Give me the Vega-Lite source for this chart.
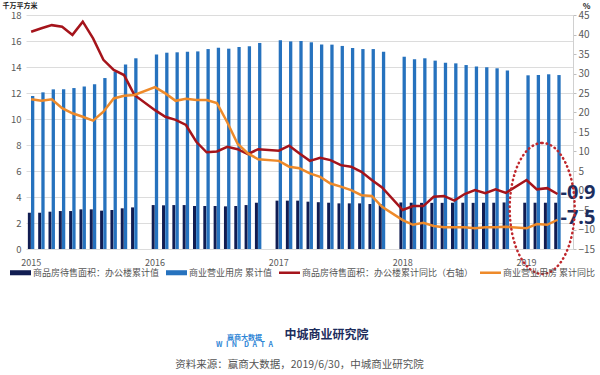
{
  "$schema": "https://vega.github.io/schema/vega-lite/v6.json",
  "width": 547,
  "height": 234,
  "autosize": {"type": "none"},
  "padding": {"left": 26, "top": 15, "right": 27, "bottom": 126},
  "background": "#ffffff",
  "config": {
    "font": "Noto Sans CJK SC",
    "view": {"stroke": null},
    "axis": {"labelFont": "Noto Sans CJK SC", "titleFont": "Noto Sans CJK SC"}
  },
  "title": {
    "text": "\u200b\u3000\u3000\u3000\u3000\u2002中城商业研究院",
    "subtitle": "资料来源：赢商大数据，2019/6/30，中城商业研究院",
    "orient": "bottom",
    "anchor": "middle",
    "frame": "group",
    "offset": -18,
    "font": "Noto Sans CJK SC",
    "fontSize": 12,
    "fontWeight": "bold",
    "color": "#1d2d5c",
    "subtitleFont": "Noto Sans CJK SC",
    "subtitleFontSize": 10.5,
    "subtitleColor": "#555555",
    "subtitlePadding": 18
  },
  "data": {"values": [
    {"month": "2015-02", "office": 2.79, "commercial": 11.77, "office_yoy": 40.7, "commercial_yoy": 23.4},
    {"month": "2015-03", "office": 2.79, "commercial": 12.05, "office_yoy": 41.6, "commercial_yoy": 23.0},
    {"month": "2015-04", "office": 2.87, "commercial": 12.28, "office_yoy": 42.4, "commercial_yoy": 23.4},
    {"month": "2015-05", "office": 2.92, "commercial": 12.28, "office_yoy": 42.0, "commercial_yoy": 21.1},
    {"month": "2015-06", "office": 2.92, "commercial": 12.38, "office_yoy": 39.9, "commercial_yoy": 19.8},
    {"month": "2015-07", "office": 3.05, "commercial": 12.50, "office_yoy": 43.3, "commercial_yoy": 18.9},
    {"month": "2015-08", "office": 3.05, "commercial": 12.67, "office_yoy": 39.0, "commercial_yoy": 17.9},
    {"month": "2015-09", "office": 2.95, "commercial": 13.15, "office_yoy": 33.5, "commercial_yoy": 20.2},
    {"month": "2015-10", "office": 3.00, "commercial": 13.64, "office_yoy": 30.9, "commercial_yoy": 23.6},
    {"month": "2015-11", "office": 3.13, "commercial": 14.20, "office_yoy": 29.6, "commercial_yoy": 24.3},
    {"month": "2015-12", "office": 3.20, "commercial": 14.67, "office_yoy": 24.5, "commercial_yoy": 24.5},
    {"month": "2016-02", "office": 3.38, "commercial": 14.97, "office_yoy": 20.6, "commercial_yoy": 26.5},
    {"month": "2016-03", "office": 3.36, "commercial": 15.10, "office_yoy": 18.9, "commercial_yoy": 24.9},
    {"month": "2016-04", "office": 3.38, "commercial": 15.13, "office_yoy": 18.1, "commercial_yoy": 23.0},
    {"month": "2016-05", "office": 3.38, "commercial": 15.18, "office_yoy": 16.8, "commercial_yoy": 23.5},
    {"month": "2016-06", "office": 3.31, "commercial": 15.20, "office_yoy": 12.5, "commercial_yoy": 23.2},
    {"month": "2016-07", "office": 3.31, "commercial": 15.38, "office_yoy": 9.8, "commercial_yoy": 23.2},
    {"month": "2016-08", "office": 3.31, "commercial": 15.48, "office_yoy": 10.0, "commercial_yoy": 22.4},
    {"month": "2016-09", "office": 3.28, "commercial": 15.41, "office_yoy": 11.2, "commercial_yoy": 17.5},
    {"month": "2016-10", "office": 3.31, "commercial": 15.54, "office_yoy": 10.6, "commercial_yoy": 12.0},
    {"month": "2016-11", "office": 3.38, "commercial": 15.59, "office_yoy": 9.3, "commercial_yoy": 9.5},
    {"month": "2016-12", "office": 3.56, "commercial": 15.85, "office_yoy": 10.6, "commercial_yoy": 8.0},
    {"month": "2017-02", "office": 3.72, "commercial": 16.05, "office_yoy": 10.2, "commercial_yoy": 7.6},
    {"month": "2017-03", "office": 3.72, "commercial": 15.97, "office_yoy": 11.5, "commercial_yoy": 6.1},
    {"month": "2017-04", "office": 3.72, "commercial": 16.00, "office_yoy": 9.5, "commercial_yoy": 5.7},
    {"month": "2017-05", "office": 3.64, "commercial": 15.90, "office_yoy": 7.6, "commercial_yoy": 4.4},
    {"month": "2017-06", "office": 3.60, "commercial": 15.74, "office_yoy": 8.4, "commercial_yoy": 3.5},
    {"month": "2017-07", "office": 3.56, "commercial": 15.72, "office_yoy": 7.8, "commercial_yoy": 1.8},
    {"month": "2017-08", "office": 3.51, "commercial": 15.62, "office_yoy": 6.5, "commercial_yoy": 1.0},
    {"month": "2017-09", "office": 3.51, "commercial": 15.46, "office_yoy": 6.1, "commercial_yoy": 0.1},
    {"month": "2017-10", "office": 3.51, "commercial": 15.38, "office_yoy": 4.8, "commercial_yoy": -1.2},
    {"month": "2017-11", "office": 3.46, "commercial": 15.38, "office_yoy": 2.7, "commercial_yoy": -1.4},
    {"month": "2017-12", "office": 3.45, "commercial": 15.18, "office_yoy": 0.8, "commercial_yoy": -4.2},
    {"month": "2018-02", "office": 3.58, "commercial": 14.79, "office_yoy": -5.0, "commercial_yoy": -7.6},
    {"month": "2018-03", "office": 3.56, "commercial": 14.59, "office_yoy": -4.0, "commercial_yoy": -8.8},
    {"month": "2018-04", "office": 3.55, "commercial": 14.67, "office_yoy": -4.0, "commercial_yoy": -8.3},
    {"month": "2018-05", "office": 3.55, "commercial": 14.49, "office_yoy": -1.6, "commercial_yoy": -9.1},
    {"month": "2018-06", "office": 3.55, "commercial": 14.33, "office_yoy": -1.4, "commercial_yoy": -9.4},
    {"month": "2018-07", "office": 3.56, "commercial": 14.28, "office_yoy": -2.6, "commercial_yoy": -9.4},
    {"month": "2018-08", "office": 3.56, "commercial": 14.15, "office_yoy": -0.9, "commercial_yoy": -9.4},
    {"month": "2018-09", "office": 3.55, "commercial": 14.03, "office_yoy": 0.1, "commercial_yoy": -9.7},
    {"month": "2018-10", "office": 3.56, "commercial": 13.98, "office_yoy": -0.7, "commercial_yoy": -9.4},
    {"month": "2018-11", "office": 3.56, "commercial": 13.90, "office_yoy": 0.3, "commercial_yoy": -9.4},
    {"month": "2018-12", "office": 3.58, "commercial": 13.74, "office_yoy": -0.6, "commercial_yoy": -9.3},
    {"month": "2019-02", "office": 3.56, "commercial": 13.36, "office_yoy": 2.7, "commercial_yoy": -9.7},
    {"month": "2019-03", "office": 3.56, "commercial": 13.38, "office_yoy": 0.3, "commercial_yoy": -8.6},
    {"month": "2019-04", "office": 3.56, "commercial": 13.44, "office_yoy": 0.6, "commercial_yoy": -8.8},
    {"month": "2019-05", "office": 3.56, "commercial": 13.38, "office_yoy": -0.9, "commercial_yoy": -7.5}
  ]},
  "encoding": {
    "x": {
      "field": "month",
      "type": "ordinal",
      "scale": {
        "domain": ["2015-02","2015-03","2015-04","2015-05","2015-06","2015-07","2015-08","2015-09","2015-10","2015-11","2015-12",
                   "2016-01","2016-02","2016-03","2016-04","2016-05","2016-06","2016-07","2016-08","2016-09","2016-10","2016-11","2016-12",
                   "2017-01","2017-02","2017-03","2017-04","2017-05","2017-06","2017-07","2017-08","2017-09","2017-10","2017-11","2017-12",
                   "2018-01","2018-02","2018-03","2018-04","2018-05","2018-06","2018-07","2018-08","2018-09","2018-10","2018-11","2018-12",
                   "2019-01","2019-02","2019-03","2019-04","2019-05","2019-06"],
        "paddingInner": 0,
        "paddingOuter": 0
      },
      "axis": {
        "title": ["赢商大数据", "W\u2002I\u2002N\u2003D\u2002A\u2002T\u2002A"],
        "titleX": 218,
        "titleY": 84,
        "titleAlign": "center",
        "titleBaseline": "top",
        "titleFontSize": 7,
        "titleLineHeight": 7.5,
        "titleFontWeight": "bold",
        "titleColor": "#2f86d6",
        "labelExpr": "slice(datum.value, 5) == '02' ? slice(datum.value, 0, 4) : ''",
        "labelAngle": 0,
        "labelFontSize": 9,
        "labelColor": "#595959",
        "labelPadding": 9,
        "labelOverlap": false,
        "ticks": false,
        "tickSize": 0,
        "domain": false,
        "grid": false
      }
    }
  },
  "layer": [
    {
      "layer": [
        {
          "mark": {"type": "bar", "width": 3, "xOffset": -1.8},
          "encoding": {
            "y": {
              "field": "office",
              "type": "quantitative",
              "scale": {"domain": [0, 18], "nice": false},
              "axis": {"title": "千万平方米", "titleAngle": 0, "titleAlign": "left", "titleBaseline": "middle", "titleX": -24, "titleY": -10, "titleFontSize": 7, "titleFontWeight": "bold", "titleColor": "#222222", "values": [0, 2, 4, 6, 8, 10, 12, 14, 16, 18], "labelOverlap": false, "labelFontSize": 9.5, "labelColor": "#595959", "labelPadding": 5, "ticks": false, "tickSize": 0, "domain": false, "grid": true, "gridColor": "#dcdcdc", "gridWidth": 1}
            },
            "color": {
              "datum": "商品房待售面积：办公楼累计值",
              "scale": {
                "domain": ["商品房待售面积：办公楼累计值", "商业营业用房 累计值", "商品房待售面积：办公楼累计同比（右轴）", "商业营业用房 累计同比"],
                "range": ["#111d52", "#2672be", "#a5141b", "#ee8a2a"]
              },
              "legend": {
                "orient": "none",
                "legendX": -16,
                "legendY": 247,
                "direction": "horizontal",
                "title": null,
                "labelFont": "Noto Sans CJK SC",
                "labelFontSize": 9,
                "labelColor": "#555555",
                "labelLimit": 0,
                "labelOffset": 2,
                "columnPadding": 6,
                "padding": 0,
                "symbolSize": 441,
                "symbolType": "M-1,-0.24H1V0.24H-1Z",
                "symbolStrokeWidth": 0,
                "encode": {
                  "symbols": {
                    "update": {
                      "shape": {"signal": "indexof(['商品房待售面积：办公楼累计值','商业营业用房 累计值'], datum.value) >= 0 ? 'M-1,-0.24H1V0.24H-1Z' : 'M-1,-0.12H1V0.12H-1Z'"},
                      "fill": {"scale": "color", "field": "value"},
                      "fillOpacity": {"value": 1},
                      "opacity": {"value": 1},
                      "strokeWidth": {"value": 0}
                    }
                  }
                }
              }
            }
          }
        },
        {
          "mark": {"type": "bar", "width": 3.3, "xOffset": 1.5},
          "encoding": {
            "y": {
              "field": "commercial",
              "type": "quantitative",
              "scale": {"domain": [0, 18], "nice": false},
              "axis": {"title": "千万平方米", "titleAngle": 0, "titleAlign": "left", "titleBaseline": "middle", "titleX": -24, "titleY": -10, "titleFontSize": 7, "titleFontWeight": "bold", "titleColor": "#222222", "values": [0, 2, 4, 6, 8, 10, 12, 14, 16, 18], "labelOverlap": false, "labelFontSize": 9.5, "labelColor": "#595959", "labelPadding": 5, "ticks": false, "tickSize": 0, "domain": false, "grid": true, "gridColor": "#dcdcdc", "gridWidth": 1}
            },
            "color": {"datum": "商业营业用房 累计值"}
          }
        }
      ]
    },
    {
      "layer": [
        {
          "mark": {"type": "line", "strokeWidth": 2.5},
          "encoding": {
            "y": {
              "field": "office_yoy",
              "type": "quantitative",
              "scale": {"domain": [-15, 45], "nice": false},
              "axis": {"orient": "right", "title": "%", "titleAngle": 0, "titleAlign": "center", "titleBaseline": "middle", "titleX": 13, "titleY": -9, "titleFontSize": 8, "titleFontWeight": "bold", "titleColor": "#222222", "values": [-15, -10, -5, 0, 5, 10, 15, 20, 25, 30, 35, 40, 45], "labelOverlap": false, "labelFontSize": 10, "labelColor": "#595959", "labelPadding": 2, "ticks": true, "tickSize": 3, "tickColor": "#bfbfbf", "domain": true, "domainColor": "#d0d0d0", "grid": false}
            },
            "color": {"datum": "商品房待售面积：办公楼累计同比（右轴）"}
          }
        },
        {
          "mark": {"type": "line", "strokeWidth": 2.5},
          "encoding": {
            "y": {
              "field": "commercial_yoy",
              "type": "quantitative",
              "scale": {"domain": [-15, 45], "nice": false},
              "axis": {"orient": "right", "title": "%", "titleAngle": 0, "titleAlign": "center", "titleBaseline": "middle", "titleX": 13, "titleY": -9, "titleFontSize": 8, "titleFontWeight": "bold", "titleColor": "#222222", "values": [-15, -10, -5, 0, 5, 10, 15, 20, 25, 30, 35, 40, 45], "labelOverlap": false, "labelFontSize": 10, "labelColor": "#595959", "labelPadding": 2, "ticks": true, "tickSize": 3, "tickColor": "#bfbfbf", "domain": true, "domainColor": "#d0d0d0", "grid": false}
            },
            "color": {"datum": "商业营业用房 累计同比"}
          }
        },
        {
          "transform": [{"filter": "datum.month == '2019-05'"}],
          "mark": {"type": "text", "align": "left", "baseline": "middle", "dx": 3, "dy": -1, "fontSize": 20, "fontWeight": "bold", "color": "#1c2e5f", "font": "Noto Sans"},
          "encoding": {
            "y": {
              "field": "office_yoy",
              "type": "quantitative",
              "scale": {"domain": [-15, 45], "nice": false},
              "axis": {"orient": "right", "title": "%", "titleAngle": 0, "titleAlign": "center", "titleBaseline": "middle", "titleX": 13, "titleY": -9, "titleFontSize": 8, "titleFontWeight": "bold", "titleColor": "#222222", "values": [-15, -10, -5, 0, 5, 10, 15, 20, 25, 30, 35, 40, 45], "labelOverlap": false, "labelFontSize": 10, "labelColor": "#595959", "labelPadding": 2, "ticks": true, "tickSize": 3, "tickColor": "#bfbfbf", "domain": true, "domainColor": "#d0d0d0", "grid": false}
            },
            "text": {"field": "office_yoy", "type": "nominal"}
          }
        },
        {
          "transform": [{"filter": "datum.month == '2019-05'"}],
          "mark": {"type": "text", "align": "left", "baseline": "middle", "dx": 3, "dy": -2, "fontSize": 20, "fontWeight": "bold", "color": "#1c2e5f", "font": "Noto Sans"},
          "encoding": {
            "y": {
              "field": "commercial_yoy",
              "type": "quantitative",
              "scale": {"domain": [-15, 45], "nice": false},
              "axis": {"orient": "right", "title": "%", "titleAngle": 0, "titleAlign": "center", "titleBaseline": "middle", "titleX": 13, "titleY": -9, "titleFontSize": 8, "titleFontWeight": "bold", "titleColor": "#222222", "values": [-15, -10, -5, 0, 5, 10, 15, 20, 25, 30, 35, 40, 45], "labelOverlap": false, "labelFontSize": 10, "labelColor": "#595959", "labelPadding": 2, "ticks": true, "tickSize": 3, "tickColor": "#bfbfbf", "domain": true, "domainColor": "#d0d0d0", "grid": false}
            },
            "text": {"field": "commercial_yoy", "type": "nominal"}
          }
        },
        {
          "data": {"values": [{"month": "2019-04", "pct": -4.6}]},
          "mark": {
            "type": "point",
            "filled": false,
            "shape": "M0,-1C0.274,-1 0.496,-0.552 0.496,0C0.496,0.552 0.274,1 0,1C-0.274,1 -0.496,0.552 -0.496,0C-0.496,-0.552 -0.274,-1 0,-1Z",
            "size": 17161,
            "xOffset": -5,
            "stroke": "#c0282d",
            "strokeWidth": 2.5,
            "strokeDash": [0.5, 4],
            "strokeCap": "round",
            "opacity": 1
          },
          "encoding": {
            "y": {
              "field": "pct",
              "type": "quantitative",
              "scale": {"domain": [-15, 45], "nice": false},
              "axis": {"orient": "right", "title": "%", "titleAngle": 0, "titleAlign": "center", "titleBaseline": "middle", "titleX": 13, "titleY": -9, "titleFontSize": 8, "titleFontWeight": "bold", "titleColor": "#222222", "values": [-15, -10, -5, 0, 5, 10, 15, 20, 25, 30, 35, 40, 45], "labelOverlap": false, "labelFontSize": 10, "labelColor": "#595959", "labelPadding": 2, "ticks": true, "tickSize": 3, "tickColor": "#bfbfbf", "domain": true, "domainColor": "#d0d0d0", "grid": false}
            }
          }
        }
      ]
    }
  ],
  "resolve": {"scale": {"y": "independent"}}
}
